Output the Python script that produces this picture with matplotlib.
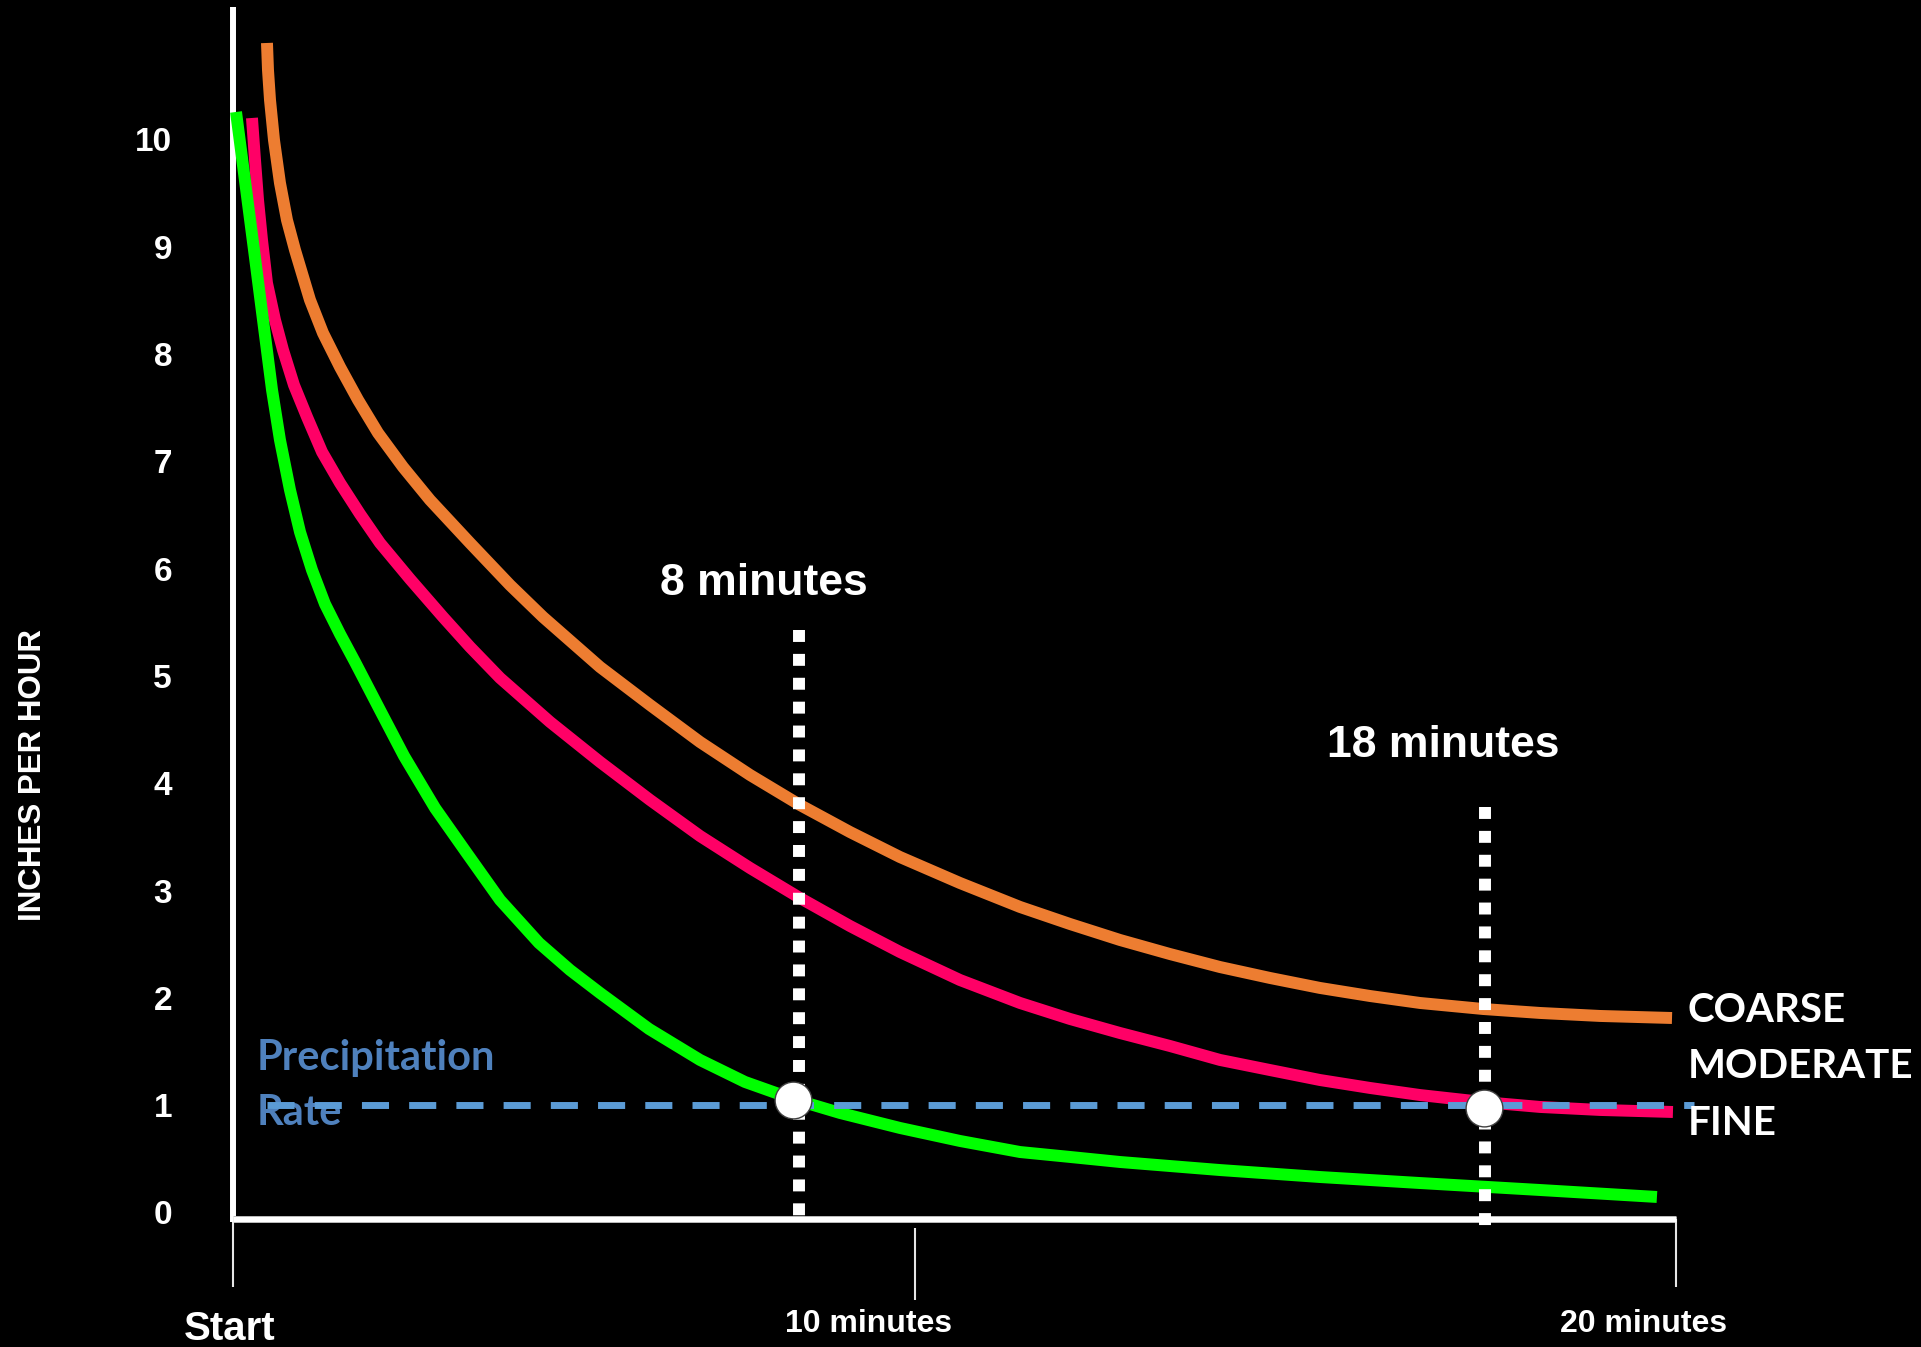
import matplotlib
matplotlib.use("Agg")
import matplotlib.pyplot as plt

# ---------------- data ----------------
rate_ticks = [0, 1, 2, 3, 4, 5, 6, 7, 8, 9, 10]
time_tick_marks = [0, 9.45, 20]
time_tick_labels = ["Start", "10 minutes", "20 minutes"]

coarse_t = [0.471, 0.485, 0.513, 0.568, 0.651, 0.748, 0.859, 1.067, 1.247, 1.483,
            1.733, 2.010, 2.356, 2.730, 3.285, 3.839, 4.297, 5.087, 5.780, 6.473,
            7.166, 7.859, 8.552, 9.245, 10.076, 10.908, 11.601, 12.294, 12.987,
            13.680, 14.373, 15.066, 15.759, 16.452, 17.325, 18.115, 18.947, 19.945]
coarse_r = [10.895, 10.643, 10.363, 9.991, 9.590, 9.245, 8.966, 8.500, 8.192, 7.875,
            7.568, 7.260, 6.943, 6.636, 6.235, 5.843, 5.545, 5.079, 4.725, 4.380,
            4.073, 3.793, 3.541, 3.308, 3.066, 2.843, 2.684, 2.535, 2.404,
            2.283, 2.181, 2.088, 2.013, 1.948, 1.892, 1.855, 1.827, 1.808]

moderate_t = [0.263, 0.305, 0.347, 0.402, 0.471, 0.582, 0.693, 0.845, 1.026, 1.234,
              1.483, 1.760, 2.037, 2.453, 2.911, 3.285, 3.701, 4.394, 5.087, 5.780,
              6.473, 7.166, 7.859, 8.552, 9.245, 10.076, 10.908, 11.601, 12.294,
              12.987, 13.680, 14.373, 15.066, 15.759, 16.452, 17.325, 18.115,
              18.947, 19.958]
moderate_r = [10.196, 9.804, 9.431, 9.059, 8.658, 8.313, 8.034, 7.707, 7.409, 7.083,
              6.794, 6.505, 6.235, 5.899, 5.545, 5.266, 4.977, 4.567, 4.194, 3.840,
              3.504, 3.206, 2.926, 2.665, 2.423, 2.162, 1.948, 1.799, 1.668,
              1.547, 1.417, 1.323, 1.230, 1.156, 1.090, 1.025, 0.979,
              0.951, 0.932]

fine_t = [0.042, 0.291, 0.541, 0.651, 0.790, 0.929, 1.095, 1.275, 1.483, 1.691,
          2.037, 2.370, 2.800, 3.229, 3.701, 4.241, 4.671, 5.087, 5.766, 6.473,
          7.096, 7.762, 8.413, 9.245, 10.076, 10.908, 11.601, 12.294, 13.680,
          15.066, 16.452, 18.115, 19.736]
fine_r = [10.252, 8.966, 7.661, 7.195, 6.729, 6.337, 5.983, 5.666, 5.387, 5.126,
          4.678, 4.250, 3.765, 3.355, 2.908, 2.507, 2.255, 2.041, 1.706, 1.417,
          1.212, 1.053, 0.923, 0.783, 0.662, 0.559, 0.513, 0.466, 0.391,
          0.326, 0.270, 0.205, 0.140]

series_names = ["COARSE", "MODERATE", "FINE"]

precip_rate = 1.0
precip_span = [0.47, 20.25]

threshold_minutes = [7.84, 17.35]
threshold_labels = ["8 minutes", "18 minutes"]
threshold_tops = [5.42, 3.77]
threshold_bottoms = [-0.065, -0.15]
crossing_t = [7.76, 17.34]
crossing_r = [1.04, 0.97]

# ---------------- figure ----------------
W, H = 1921, 1347
fig = plt.figure(figsize=(W / 100, H / 100), dpi=100, facecolor="black")
ax = fig.add_axes([0, 0, 1, 1])
ax.set_facecolor("black")
ax.set_xlim(-3.2294, 23.396)
ax.set_ylim(-1.2582, 11.2954)
ax.axis("off")

AR = ["Liberation Sans", "DejaVu Sans"]
CAL = ["Lato", "DejaVu Sans"]

# axes lines
ax.plot([0, 0], [-0.093, 11.23], color="white", lw=4.3, solid_capstyle="butt", zorder=3)
ax.plot([0, 20], [-0.065, -0.065], color="#bfbfbf", lw=5.0, solid_capstyle="butt", zorder=3)
ax.plot([0, 20], [-0.065, -0.065], color="white", lw=3.6, solid_capstyle="butt", zorder=3.1)
tick_tops = [-0.093, -0.15, -0.065]
tick_bottoms = [-0.70, -0.82, -0.70]
for tx, t0, t1 in zip(time_tick_marks, tick_tops, tick_bottoms):
    ax.plot([tx, tx], [t0, t1], color="#e6e6e6", lw=1.5, solid_capstyle="butt", zorder=3)

# curves
lw_curve = 8.6
for t, r, c in [(coarse_t, coarse_r, "#ED7D31"),
                (moderate_t, moderate_r, "#FF0066"),
                (fine_t, fine_r, "#00FF00")]:
    ax.plot(t, r, color=c, lw=lw_curve, solid_capstyle="butt",
            solid_joinstyle="round", zorder=4)

# precipitation rate
ax.text(0.333, 1.323, "Precipitation", color="#4F81BD", fontsize=30,
        fontweight="bold", family=CAL, ha="left", va="baseline", zorder=4.5)
ax.text(0.333, 0.811, "Rate", color="#4F81BD", fontsize=30,
        fontweight="bold", family=CAL, ha="left", va="baseline", zorder=4.5)
ax.plot(precip_span, [precip_rate, precip_rate], color="#5B9BD5", lw=5,
        linestyle=(0, (3.9, 2.9)), dash_capstyle="butt", zorder=5)

# threshold dotted lines + labels
label_pos = [(7.36, 5.75), (16.77, 4.24)]
for x, top, bot, lab, (lx, ly) in zip(threshold_minutes, threshold_tops,
                                       threshold_bottoms, threshold_labels, label_pos):
    ax.plot([x, x], [top, bot], color="white", lw=8.6, linestyle=(0, (1, 1)),
            dash_capstyle="butt", zorder=6)
    ax.text(lx, ly, lab, color="white", fontsize=32, fontweight="bold",
            family=AR, ha="center", va="baseline", zorder=7)

ax.plot(crossing_t, crossing_r, linestyle="none", marker="o", markersize=26.5,
        markerfacecolor="white", markeredgecolor="#404040", markeredgewidth=1.0, zorder=8)

# series labels
for name, yb in zip(series_names, [1.771, 1.249, 0.718]):
    ax.text(20.166, yb, name, color="white", fontsize=29, fontweight="bold",
            family=CAL, ha="left", va="baseline", zorder=7)

# y tick labels
for v in rate_ticks:
    ax.text(-0.845, v - 0.1165, str(v), color="white", fontsize=24,
            fontweight="bold", family=AR, ha="right", va="baseline", zorder=7)

# y axis title
ax.text(-2.772, 4.073, "INCHES PER HOUR", color="white", fontsize=22.5,
        fontweight="bold", family=AR, rotation=90, ha="center", va="center", zorder=7)

# x labels
ax.text(-0.042, -1.193, time_tick_labels[0], color="white", fontsize=29,
        fontweight="bold", family=AR, ha="center", va="baseline", zorder=7)
ax.text(8.815, -1.118, time_tick_labels[1], color="white", fontsize=23,
        fontweight="bold", family=AR, ha="center", va="baseline", zorder=7)
ax.text(19.556, -1.118, time_tick_labels[2], color="white", fontsize=23,
        fontweight="bold", family=AR, ha="center", va="baseline", zorder=7)

fig.savefig("out.png", dpi=100, facecolor="black")
